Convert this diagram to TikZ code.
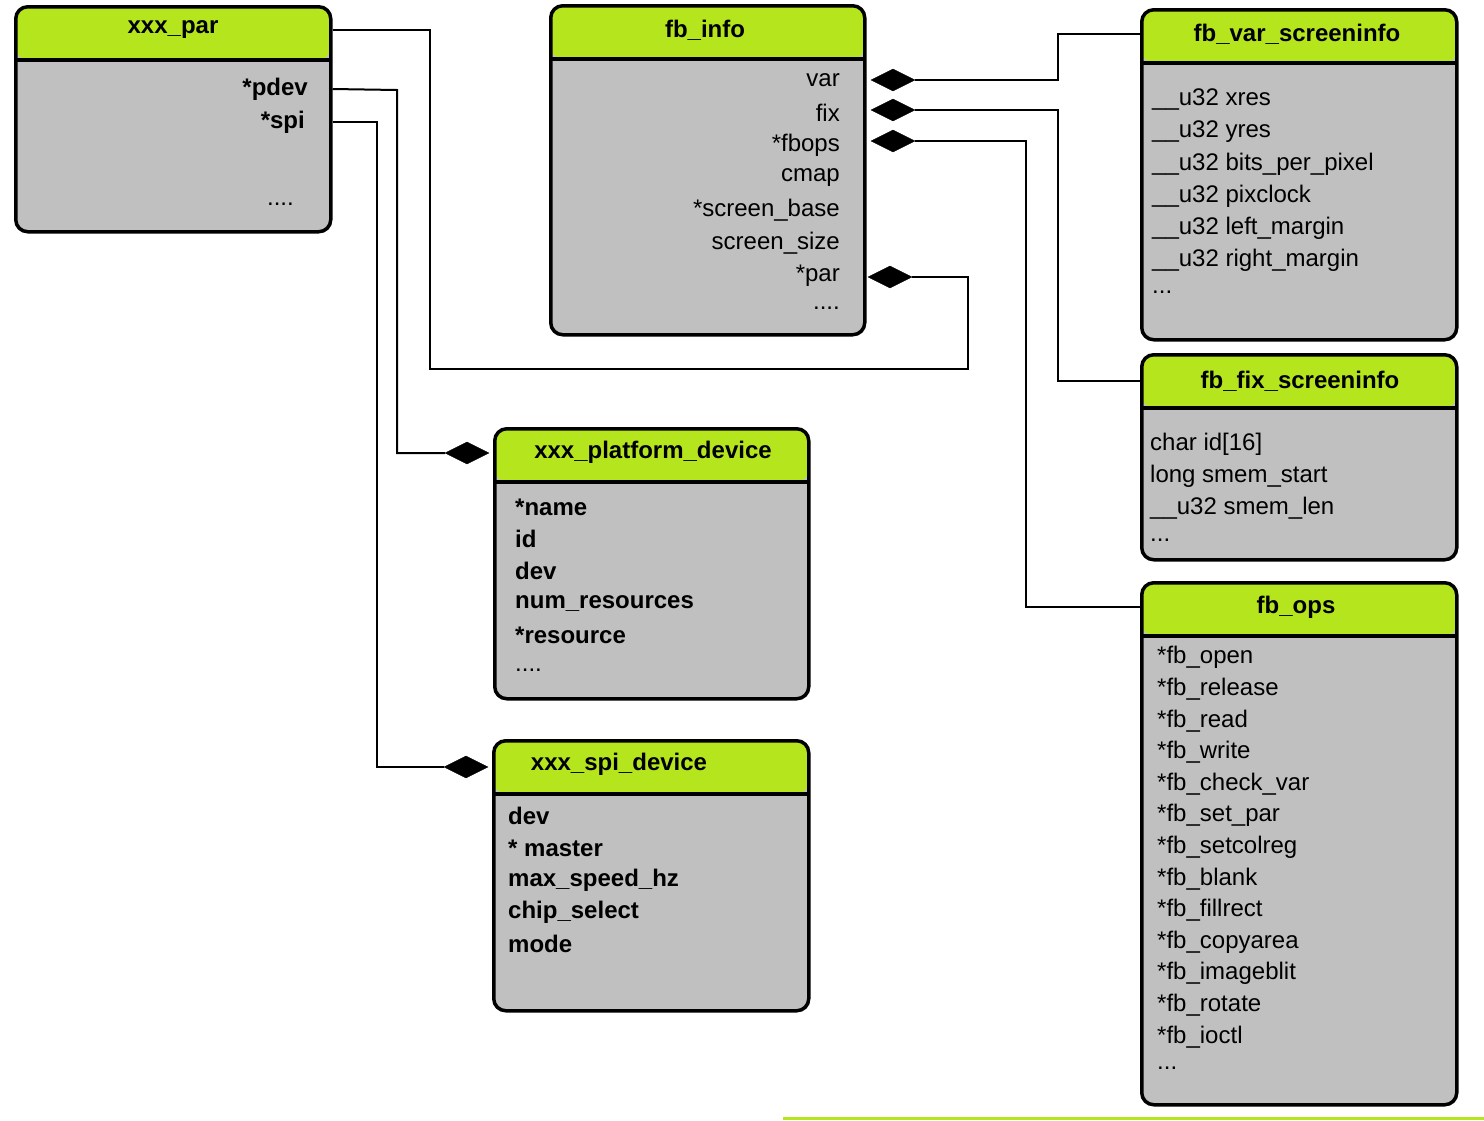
\documentclass[tikz,border=0pt]{standalone}
\usepackage{fontspec}
\setmainfont{Liberation Sans}
\usepackage{xcolor}
\usepackage{tikz}
\usetikzlibrary{arrows.meta,positioning,calc,shapes.geometric}
\definecolor{hdgreen}{RGB}{181,230,29}
\definecolor{bodygray}{RGB}{192,192,192}
\newcommand{\threedots}{...}
\newcommand{\fourdots}{....}

\begin{document}
\begin{tikzpicture}[x=1pt,y=-1pt,
            box/.style={draw, line width=3.5pt, rounded corners=12pt, fill=bodygray, anchor=north west,
                 path picture={\fill[hdgreen] (path picture bounding box.north west) rectangle ([yshift=-53pt]path picture bounding box.north east);
                   \draw[line width=3.5pt] ([yshift=-53pt]path picture bounding box.north west) -- ([yshift=-53pt]path picture bounding box.north east);}},
            title/.style={font=\fontsize{24}{28}\selectfont\bfseries},
            field/.style={font=\fontsize{24}{28}\selectfont, inner sep=0pt},
            bfield/.style={field, font=\fontsize{24}{28}\selectfont\bfseries},
            agg/.style={draw, fill=black, diamond, minimum width=44pt, minimum height=22pt, inner sep=0pt},
            link/.style={line width=2pt}
            ]
            \useasboundingbox (0,0) rectangle (1484,1120);

            % Boxes
            \node[box, minimum width=315pt, minimum height=225pt] (par) at (14,5) {};
            \node[box, minimum width=314pt, minimum height=329pt] (info) at (549,4) {};
            \node[box, minimum width=315pt, minimum height=330pt] (var) at (1140,8) {};
            \node[box, minimum width=315pt, minimum height=205pt] (fix) at (1140,353) {};
            \node[box, minimum width=315pt, minimum height=522pt] (ops) at (1140,581) {};
            \node[box, minimum width=314pt, minimum height=270pt] (pdev) at (493,427) {};
            \node[box, minimum width=315pt, minimum height=270pt] (spi) at (492,739) {};

            % Titles
            \node[title] (partitle) at (173,30) {xxx\_par};
            \node[title] (infotitle) at (705,30) {fb\_info};
            \node[title] (vartitle) at (1297,34) {fb\_var\_screeninfo};
            \node[title] (fixtitle) at (1300,381) {fb\_fix\_screeninfo};
            \node[title] (opstitle) at (1296,607) {fb\_ops};
            \node[title] (pdevtitle) at (653,452) {xxx\_platform\_device};
            \node[title] (spititle) at (619,764) {xxx\_spi\_device};

            % Fields
            \node[bfield, anchor=east] (fpdev) at (308,89) {*pdev};
            \node[bfield, anchor=east] (fspi) at (305,122) {*spi};
            \node[field, anchor=east] (fdots) at (294,204) {\fourdots};
            \foreach \t [count=\i] in {var, fix, *fbops, cmap, *screen\_base, screen\_size, *par, \fourdots}
              \node[field, anchor=east] (info\i) at (840,48+32.5*\i) {\t};
            \foreach \t [count=\i] in {\_\_u32 xres, \_\_u32 yres, \_\_u32 bits\_per\_pixel, \_\_u32 pixclock, \_\_u32 left\_margin, \_\_u32 right\_margin, \threedots}
              \node[field, anchor=west] (var\i) at (1152,68+32*\i) {\t};
            \foreach \t [count=\i] in {char id[16], long smem\_start, \_\_u32 smem\_len, \threedots}
              \node[field, anchor=west] (fix\i) at (1150,412+32*\i) {\t};
            \foreach \t [count=\i] in {*fb\_open, *fb\_release, *fb\_read, *fb\_write, *fb\_check\_var, *fb\_set\_par, *fb\_setcolreg, *fb\_blank, *fb\_fillrect, *fb\_copyarea, *fb\_imageblit, *fb\_rotate, *fb\_ioctl, \threedots}
              \node[field, anchor=west] (ops\i) at (1157,626+31.6*\i) {\t};
            \foreach \t [count=\i] in {*name, id, dev, num\_resources, *resource}
              \node[bfield, anchor=west] (pdev\i) at (515,475+32*\i) {\t};
            \node[field, anchor=west] (pdevdots) at (515,670) {\fourdots};
            \foreach \t [count=\i] in {dev, * master, max\_speed\_hz, chip\_select, mode}
              \node[bfield, anchor=west] (spi\i) at (508,784+32*\i) {\t};

            % Aggregation diamonds
            \node[agg] (dvar) at (893,80) {};
            \node[agg] (dfix) at (893,110) {};
            \node[agg] (dops) at (893,141) {};
            \node[agg] (dpar) at (890,277) {};
            \node[agg] (dpdev) at (467,453) {};
            \node[agg] (dspi) at (466,767) {};

            % Connectors
            \draw[link] (par.east |- partitle) -- (430,30) |- (968,369) |- (dpar.east);
            \draw[link] (par.east |- fpdev) -- (397,90) |- (dpdev.west);
            \draw[link] (par.east |- fspi) -- (377,122) |- (dspi.west);
            \draw[link] (dvar.east) -- (1058,80) |- (var.west |- vartitle);
            \draw[link] (dfix.east) -- (1058,110) |- (fix.west |- fixtitle);
            \draw[link] (dops.east) -- (1026,141) |- (ops.west |- opstitle);

            \draw[hdgreen, line width=3pt] (783,1118) -- (1484,1118);
        \end{tikzpicture}
\end{document}
